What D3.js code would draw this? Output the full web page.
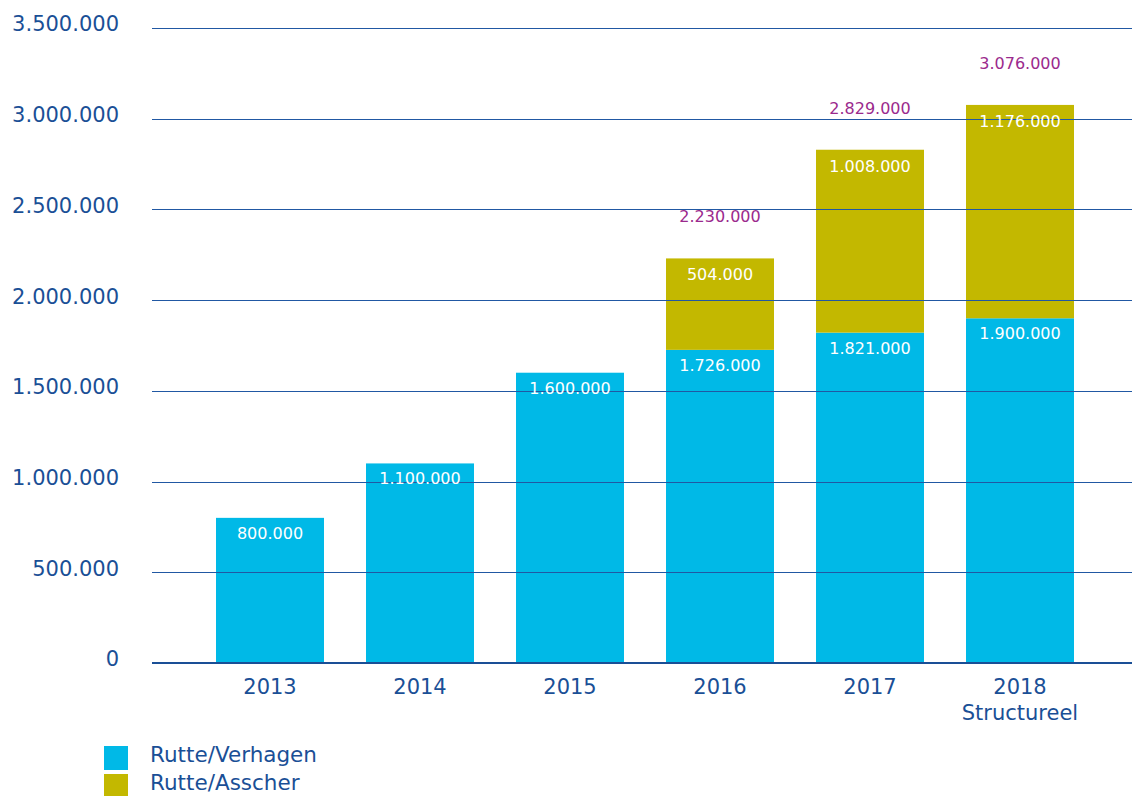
<!DOCTYPE html>
<html>
<head>
<meta charset="utf-8">
<script src="https://cdn.jsdelivr.net/npm/d3@7"></script>
<style>
  body { margin: 0; background: #fff; }
  text { font-family: "DejaVu Sans", Verdana, sans-serif; }
</style>
</head>
<body>
<div id="chart"></div>
<script>
// data
var years = ["2013", "2014", "2015", "2016", "2017", "2018"];
var yearSub = ["", "", "", "", "", "Structureel"];
var verhagen = [800000, 1100000, 1600000, 1726000, 1821000, 1900000];
var asscher = [0, 0, 0, 504000, 1008000, 1176000];
var yTicks = [0, 500000, 1000000, 1500000, 2000000, 2500000, 3000000, 3500000];
var seriesNames = ["Rutte/Verhagen", "Rutte/Asscher"];

var svgWidth = 1132;
var svgHeight = 796;
var margin = { top: 28, right: 0, bottom: 133, left: 152 };
var width = svgWidth - margin.left - margin.right;
var height = svgHeight - margin.top - margin.bottom;

var colBlue = "#00b9e7";
var colOlive = "#c3b800";
var colText = "#1a4f96";
var colTotal = "#9b2a8d";

var nl = d3.formatLocale({ decimal: ",", thousands: ".", grouping: [3], currency: ["€", ""] });
var fmt = nl.format(",d");

var svg = d3.select("#chart").append("svg")
  .attr("width", svgWidth)
  .attr("height", svgHeight);

var g = svg.append("g")
  .attr("transform", `translate(${margin.left}, ${margin.top})`);

// scales
var x = d3.scaleBand()
  .domain(years)
  .range([43, 943])
  .paddingInner(0.28)
  .paddingOuter(0.14);

var y = d3.scaleLinear()
  .domain([0, 3500000])
  .range([height, 0]);

var rows = years.map(function(yr, i) {
  return { year: yr, sub: yearSub[i], a: verhagen[i], b: asscher[i], total: verhagen[i] + asscher[i] };
});

// Rutte/Verhagen bars
g.selectAll(".barA").data(rows).enter()
  .append("rect")
  .attr("class", "barA")
  .attr("x", d => x(d.year))
  .attr("width", x.bandwidth())
  .attr("y", d => y(d.a))
  .attr("height", d => y(0) - y(d.a))
  .attr("fill", colBlue);

// Rutte/Asscher bars
g.selectAll(".barB").data(rows.filter(d => d.b > 0)).enter()
  .append("rect")
  .attr("class", "barB")
  .attr("x", d => x(d.year))
  .attr("width", x.bandwidth())
  .attr("y", d => y(d.total))
  .attr("height", d => y(d.a) - y(d.total))
  .attr("fill", colOlive);

// gridlines + y labels (drawn over bars)
var yAxis = g.append("g")
  .call(d3.axisLeft(y).tickValues(yTicks).tickFormat(fmt).tickSize(-width).tickPadding(33));
yAxis.select(".domain").remove();
yAxis.selectAll(".tick line")
  .attr("stroke", "#2158a3")
  .attr("stroke-width", 1)
  .attr("shape-rendering", "crispEdges");
yAxis.selectAll(".tick text")
  .attr("fill", colText)
  .attr("font-size", "21px")
  .attr("dy", "0.14em");

// baseline
g.append("line")
  .attr("x1", 0)
  .attr("x2", width)
  .attr("y1", y(0))
  .attr("y2", y(0))
  .attr("stroke", colText)
  .attr("stroke-width", 2);

// x labels
var xLab = g.selectAll(".xlab").data(rows).enter()
  .append("text")
  .attr("class", "xlab")
  .attr("text-anchor", "middle")
  .attr("fill", colText)
  .attr("font-size", "21px")
  .attr("x", d => x(d.year) + x.bandwidth() / 2)
  .attr("y", y(0) + 31);
xLab.append("tspan").text(d => d.year);
xLab.append("tspan")
  .attr("x", d => x(d.year) + x.bandwidth() / 2)
  .attr("dy", 26)
  .text(d => d.sub);

// value labels
g.selectAll(".labA").data(rows).enter()
  .append("text")
  .attr("text-anchor", "middle")
  .attr("fill", "#fff")
  .attr("font-size", "16px")
  .attr("x", d => x(d.year) + x.bandwidth() / 2)
  .attr("y", d => y(d.a) + 21)
  .text(d => fmt(d.a));

g.selectAll(".labB").data(rows.filter(d => d.b > 0)).enter()
  .append("text")
  .attr("text-anchor", "middle")
  .attr("fill", "#fff")
  .attr("font-size", "16px")
  .attr("x", d => x(d.year) + x.bandwidth() / 2)
  .attr("y", d => y(d.total) + 22)
  .text(d => fmt(d.b));

g.selectAll(".labT").data(rows.filter(d => d.b > 0)).enter()
  .append("text")
  .attr("text-anchor", "middle")
  .attr("fill", colTotal)
  .attr("font-size", "16px")
  .attr("x", d => x(d.year) + x.bandwidth() / 2)
  .attr("y", d => y(d.total) - 36)
  .text(d => fmt(d.total));

// legend
var legend = svg.append("g").attr("transform", "translate(104, 746)");
var li = legend.selectAll("g").data(seriesNames).enter()
  .append("g")
  .attr("transform", (d, i) => `translate(0, ${i * 28})`);
li.append("rect")
  .attr("width", 24)
  .attr("height", 24)
  .attr("fill", (d, i) => i === 0 ? colBlue : colOlive);
li.append("text")
  .attr("x", 46)
  .attr("y", 16)
  .attr("fill", colText)
  .attr("font-size", "21.5px")
  .text(d => d);
</script>
</body>
</html>
